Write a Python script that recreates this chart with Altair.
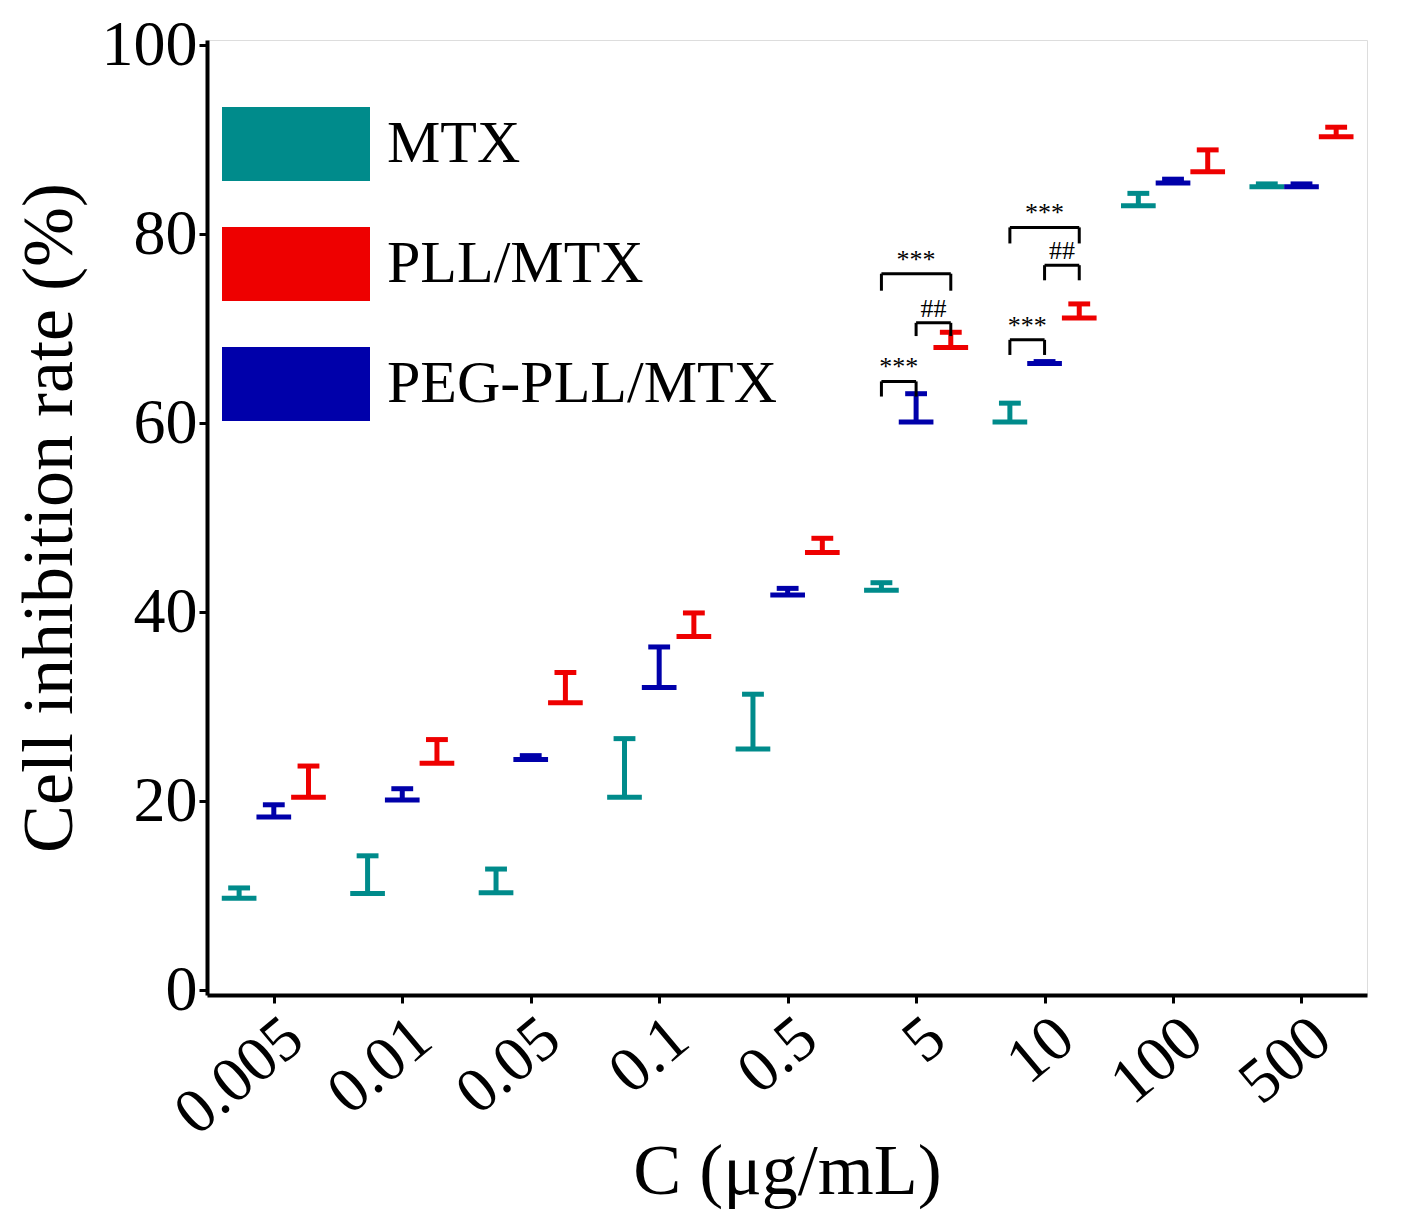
import altair as alt
import pandas as pd

concs = ["0.005", "0.01", "0.05", "0.1", "0.5", "5", "10", "100", "500"]
series = ["MTX", "PEG-PLL/MTX", "PLL/MTX"]
colors = {"MTX": "#008B8B", "PLL/MTX": "#EE0000", "PEG-PLL/MTX": "#0000AA"}

mtx = [9.7, 10.2, 10.3, 20.4, 25.5, 42.3, 60.1, 83.0, 85.0]
mtx_err = [1.1, 4.0, 2.5, 6.2, 5.8, 0.8, 2.0, 1.3, 0.3]
peg = [18.3, 20.1, 24.4, 32.0, 41.8, 60.1, 66.3, 85.4, 85.0]
peg_err = [1.3, 1.2, 0.4, 4.3, 0.7, 3.0, 0.2, 0.4, 0.3]
pll = [20.4, 24.0, 30.4, 37.4, 46.3, 68.0, 71.1, 86.6, 90.3]
pll_err = [3.3, 2.5, 3.2, 2.5, 1.5, 1.6, 1.5, 2.3, 1.0]

# significance brackets: group, from series, to series, bracket level, leg bottom, label
sig_group = [5, 5, 5, 6, 6, 6]
sig_from = [0, 1, 0, 0, 1, 0]
sig_to = [1, 2, 2, 1, 2, 2]
sig_y = [64.4, 70.6, 75.8, 68.8, 76.7, 80.7]
sig_leg = [62.8, 69.2, 74.0, 67.2, 75.1, 79.0]
sig_label = ["***", "##", "***", "***", "##", "***"]

BW = 0.27
rows = []
for k, (name, vals, errs) in enumerate(zip(series, [mtx, peg, pll], [mtx_err, peg_err, pll_err])):
    for i, (v, e) in enumerate(zip(vals, errs)):
        c = i + (k - 1) * BW
        rows.append(dict(series=name, x0=c - BW / 2, x1=c + BW / 2, xc=c,
                         cl=c - 0.085, cr=c + 0.085, v=v, top=v + e))
df = pd.DataFrame(rows)

srows = []
for g, a, b, y, leg, lab in zip(sig_group, sig_from, sig_to, sig_y, sig_leg, sig_label):
    xa = g + (a - 1) * BW
    xb = g + (b - 1) * BW
    srows.append(dict(xa=xa, xb=xb, xm=(xa + xb) / 2, y=y, leg=leg, label=lab))
sdf = pd.DataFrame(srows)

font = "Liberation Serif"
label_expr = "[" + ",".join(f"'{c}'" for c in concs) + "][datum.value]"

xs = alt.Scale(domain=[-0.52, 8.51], nice=False, zero=False)
ys = alt.Scale(domain=[0, 100], nice=False)
color = alt.Color("series:N",
                  scale=alt.Scale(domain=["MTX", "PLL/MTX", "PEG-PLL/MTX"],
                                  range=[colors["MTX"], colors["PLL/MTX"], colors["PEG-PLL/MTX"]]),
                  legend=alt.Legend(title=None, orient="none", legendX=15, legendY=30,
                                    symbolType="M-1,-0.5H1V0.5H-1Z", symbolSize=21904,
                                    symbolStrokeWidth=0, symbolOpacity=1,
                                    labelFont=font, labelFontSize=60, labelColor="black",
                                    labelOffset=17, rowPadding=9, labelLimit=600))

base = alt.Chart(df)
bars = base.mark_bar().encode(
    x=alt.X("x0:Q", scale=xs, title="C (μg/mL)",
            axis=alt.Axis(values=list(range(9)), labelExpr=label_expr, labelAngle=-40,
                          labelAlign="right", labelBaseline="top", labelFont=font,
                          labelFontSize=64, labelColor="black", labelPadding=2,
                          titleFont=font, titleFontSize=72, titleFontWeight="normal",
                          titleColor="black", titlePadding=-10, grid=False,
                          domainColor="black", domainWidth=4, tickColor="black",
                          tickWidth=3, tickSize=8)),
    x2="x1:Q",
    y=alt.Y("v:Q", scale=ys, title="Cell inhibition rate (%)",
            axis=alt.Axis(values=[0, 20, 40, 60, 80, 100], labelFont=font, labelFontSize=64,
                          labelColor="black", titleFont=font, titleFontSize=72,
                          titleFontWeight="normal", titleColor="black", titlePadding=15,
                          grid=False, domainColor="black", domainWidth=4,
                          tickColor="black", tickWidth=3, tickSize=8)),
    color=color,
)
err = base.mark_rule(strokeWidth=5).encode(
    x="xc:Q", y="v:Q", y2="top:Q", color=alt.Color("series:N", legend=None))
cap = base.mark_rule(strokeWidth=5).encode(
    x="cl:Q", x2="cr:Q", y="top:Q", color=alt.Color("series:N", legend=None))

sb = alt.Chart(sdf)
hline = sb.mark_rule(strokeWidth=3, color="black").encode(x="xa:Q", x2="xb:Q", y="y:Q")
lleg = sb.mark_rule(strokeWidth=3, color="black").encode(x="xa:Q", y="y:Q", y2="leg:Q")
rleg = sb.mark_rule(strokeWidth=3, color="black").encode(x="xb:Q", y="y:Q", y2="leg:Q")
txt = sb.mark_text(font=font, fontSize=26, dy=-14, color="black").encode(
    x="xm:Q", y="y:Q", text="label:N")

chart = alt.layer(bars, err, cap, hline, lleg, rleg, txt).properties(
    width=1160, height=955
).configure_view(stroke="black", strokeWidth=4).configure(background="white")

chart.save("out.html", embed_options={"renderer": "svg", "actions": False})
